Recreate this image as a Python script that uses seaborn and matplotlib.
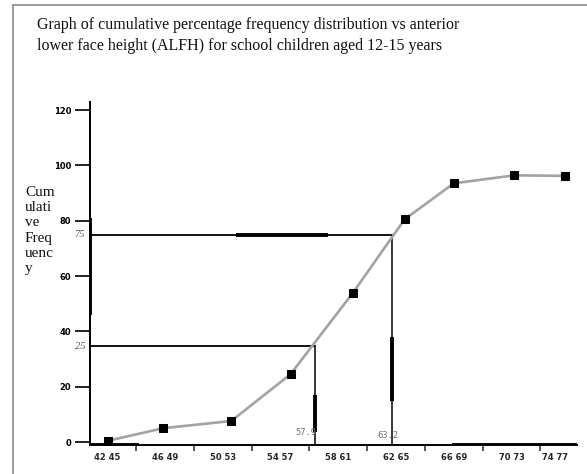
import matplotlib
matplotlib.use("Agg")
import matplotlib.pyplot as plt
from matplotlib.lines import Line2D
import seaborn as sns
import pandas as pd

# ---- data ----
class_labels = ['42 45', '46 49', '50 53', '54 57', '58 61', '62 65', '66 69', '70 73', '74 77']
class_mid = [43.5, 47.5, 51.5, 55.5, 59.5, 63.5, 67.5, 71.5, 74.5]
class_bounds = [45.5, 49.5, 53.5, 57.5, 61.5, 65.5, 69.5, 73.5]
point_alfh = [43.6, 47.4, 52.1, 56.2, 60.5, 64.1, 67.5, 71.7, 75.2]
cum_pct = [0.5, 5.0, 7.6, 24.5, 53.8, 80.5, 93.5, 96.4, 96.2]
quartile_alfh = [57.9, 63.2]
quartile_text = ['57.9', '63.2']
level_y = [34.7, 75.0]
level_text = ['25', '75']
y_ticks = [0, 20, 40, 60, 80, 100, 120]

df = pd.DataFrame({'ALFH': point_alfh, 'Cum': cum_pct})

sns.set_style('white')
plt.rcParams['font.family'] = ['DejaVu Sans']

W, H = 587, 474
fig = plt.figure(figsize=(W / 100, H / 100), dpi=100)
ax = fig.add_axes([90 / W, (H - 445) / H, 487 / W, 343 / H])

x0, x1 = 42.32, 76.03
y0, y1 = -1.08, 122.9
ax.set_xlim(x0, x1)
ax.set_ylim(y0, y1)

# quartile guide lines
for xq, yl in zip(quartile_alfh, level_y):
    ax.plot([x0, xq], [yl, yl], color='black', lw=1.3, zorder=2)
    ax.plot([xq, xq], [y0, yl], color='black', lw=1.1, zorder=2)

# scan-like heavier segments
heavy = dict(color='black', lw=2.8, solid_capstyle='butt', zorder=3)
ax.plot([x0, x0], [46, 81], **heavy)
ax.plot([52.4, 58.8], [75, 75], **heavy)
ax.plot([57.9, 57.9], [3.6, 17], **heavy)
ax.plot([63.2, 63.2], [15, 38], **heavy)
ax.plot([x0, 45.7], [y0, y0], **heavy)
ax.plot([67.4, x1], [y0, y0], **heavy)

# cumulative curve
sns.lineplot(data=df, x='ALFH', y='Cum', ax=ax, sort=False, color='#a3a3a3',
             lw=1.9, marker='s', markersize=5.8, markerfacecolor='black',
             markeredgecolor='black', zorder=4)

# quartile value labels
ax.text(quartile_alfh[0] + 0.1, 3.3, quartile_text[0], ha='right', va='center',
        family='DejaVu Sans Mono', fontsize=6.3, color='#707070')
ax.text(quartile_alfh[1] - 0.25, 0.6, quartile_text[1], ha='center', va='bottom',
        family='DejaVu Sans Mono', fontsize=6.3, color='#707070')

# level labels at y axis
for yl, t in zip(level_y, level_text):
    ax.text(-0.01, yl, t, transform=ax.get_yaxis_transform(), ha='right', va='center',
            family='Liberation Serif', style='italic', fontsize=7.5, color='#555555')

# axes styling
for s in ['top', 'right']:
    ax.spines[s].set_visible(False)
for s in ['left', 'bottom']:
    ax.spines[s].set_color('black')
    ax.spines[s].set_linewidth(1.4)

ax.set_yticks(y_ticks)
ax.set_yticklabels([str(v) for v in y_ticks], fontsize=6, fontweight='bold')
ax.tick_params(axis='y', direction='out', length=11, width=1.2, pad=2.5, colors='black', left=True)

ax.set_xticks(class_bounds)
ax.set_xticklabels([])
ax.set_xticks(class_mid, minor=True)
ax.set_xticklabels(class_labels, minor=True, fontsize=6, fontweight='bold')
ax.tick_params(axis='x', which='major', direction='out', length=4, width=1.1, bottom=True)
ax.tick_params(axis='x', which='minor', length=0, pad=6)
ax.set_xlabel('')
ax.set_ylabel('')

# title and y label
fig.text(37 / W, 1 - 17 / H,
         'Graph of cumulative percentage frequency distribution vs anterior\n'
         'lower face height (ALFH) for school children aged 12-15 years',
         ha='left', va='top', family='Liberation Serif', fontsize=11.5,
         linespacing=1.45, color='#111111')
fig.text(25 / W, 1 - 186 / H, 'Cum\nulati\nve\nFreq\nuenc\ny', ha='left', va='top',
         family='Liberation Serif', fontsize=11, linespacing=1.22, color='#111111')

# outer frame (left and top edges)
fig.add_artist(Line2D([13 / W, 13 / W], [0, 1 - 5 / H], transform=fig.transFigure,
                      color='#8a8a8a', lw=1.2))
fig.add_artist(Line2D([13 / W, 1], [1 - 5 / H, 1 - 5 / H], transform=fig.transFigure,
                      color='#8a8a8a', lw=1.2))

fig.savefig('out.png', dpi=100)
